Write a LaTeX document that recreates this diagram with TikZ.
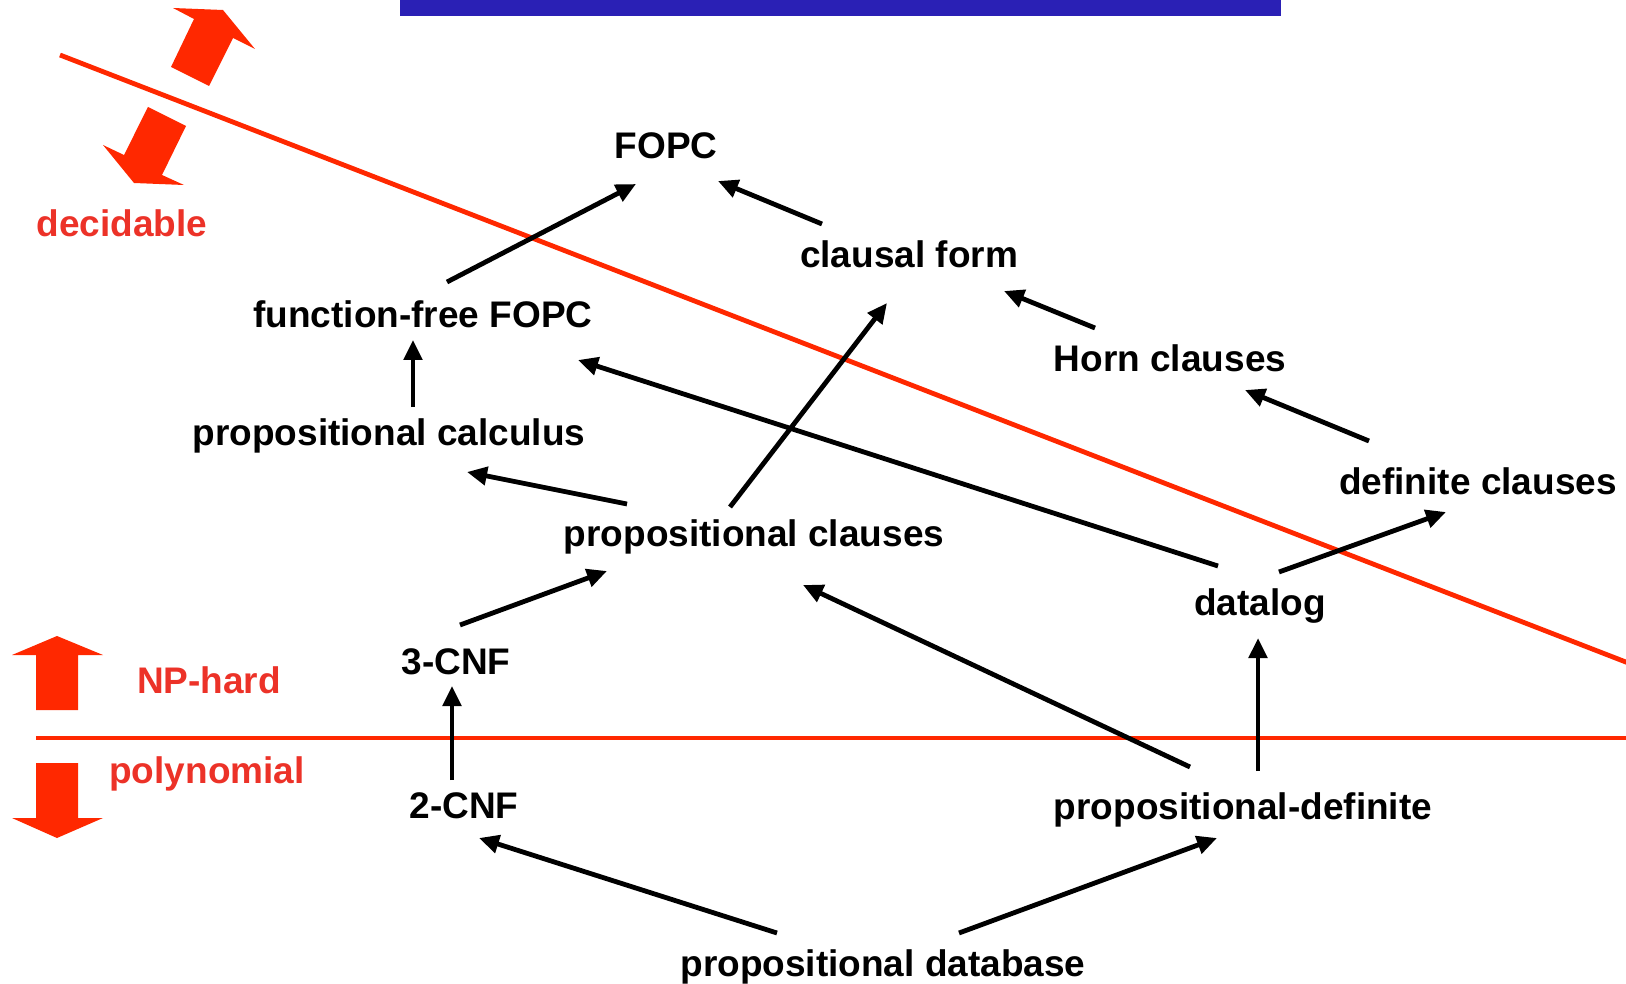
\documentclass[tikz,border=0pt]{standalone}
\usepackage{fontspec}
\setmainfont{Liberation Sans}
\usetikzlibrary{arrows.meta,calc}
\definecolor{redline}{RGB}{255,40,0}
\definecolor{redtext}{RGB}{236,50,40}
\definecolor{barblue}{RGB}{42,32,181}
\tikzset{
  lbl/.style={anchor=base,inner sep=0pt,font=\fontsize{37}{44}\selectfont\bfseries,text=black},
  rlbl/.style={lbl,text=redtext},
  arr/.style={line width=4.8pt,-{Triangle[length=20pt,width=18pt]},black},
  bigarrow/.style={fill=redline,draw=none},
  redrule/.style={draw=redline,line width=4.8pt}
}
\begin{document}
\begin{tikzpicture}[x=1pt,y=-1pt]
\useasboundingbox (0,0) rectangle (1626,984);
% blue bar
\fill[barblue] (400,0) rectangle (1281,16);
% red lines
\draw[redrule] (60,55) -- (1640,667.5);
\draw[redrule] (36,738) -- (1626,738);
% red big arrows
\fill[bigarrow] (171,67) -- (209,86) -- (233,38) -- (255,49) -- (223,10) -- (173,8) -- (194,19) -- cycle;
\fill[bigarrow] (148,107) -- (186,126) -- (162,175) -- (184,185) -- (134,183) -- (103,145) -- (124,155) -- cycle;
\fill[bigarrow] (57,636) -- (103,655) -- (78,655) -- (78,710) -- (36,710) -- (36,655) -- (12,655) -- cycle;
\fill[bigarrow] (36,763) -- (78,763) -- (78,818) -- (103,818) -- (57,838) -- (12,818) -- (36,818) -- cycle;
% red labels
\node[rlbl] (decidable) at (122,237) {decidable};
\node[rlbl] (nphard) at (209,693) {NP-hard};
\node[rlbl] (poly) at (207,783) {polynomial};
% nodes
\node[lbl] (fopc) at (666,159) {FOPC};
\node[lbl] (clausal) at (909,268) {clausal form};
\node[lbl] (fff) at (423,328) {function-free FOPC};
\node[lbl] (horn) at (1170,372) {Horn clauses};
\node[lbl] (pcalc) at (389,445) {propositional calculus};
\node[lbl] (defcl) at (1478,494) {definite clauses};
\node[lbl] (pclauses) at (754,546) {propositional clauses};
\node[lbl] (datalog) at (1260,615) {datalog};
\node[lbl] (cnf3) at (456,674) {3-CNF};
\node[lbl] (cnf2) at (464,818) {2-CNF};
\node[lbl] (pdef) at (1243,819) {propositional-definite};
\node[lbl] (pdb) at (883,976) {propositional database};
% connectors
\draw[arr] ($(fff.base)+(24,-46)$) -- ($(fopc.base)+(-30,25)$);
\draw[arr] ($(clausal.base)+(-87,-44)$) -- ($(fopc.base)+(52,22)$);
\draw[arr] ($(pcalc.base)+(24,-38)$) -- ($(fff.base)+(-10,12)$);
\draw[arr] ($(horn.base)+(-75,-44)$) -- ($(clausal.base)+(95,23)$);
\draw[arr] ($(defcl.base)+(-109,-53)$) -- ($(horn.base)+(75,18)$);
\draw[arr] ($(pclauses.base)+(-127,-42)$) -- ($(pcalc.base)+(78,27)$);
\draw[arr] ($(pclauses.base)+(-24,-39)$) -- ($(clausal.base)+(-22,35)$);
\draw[arr] ($(datalog.base)+(-42,-49)$) -- ($(fff.base)+(155,32)$);
\draw[arr] ($(datalog.base)+(19,-43)$) -- ($(defcl.base)+(-32,18)$);
\draw[arr] ($(cnf3.base)+(4,-49)$) -- ($(pclauses.base)+(-147,25)$);
\draw[arr] ($(cnf2.base)+(-12,-38)$) -- ($(cnf3.base)+(-4,12)$);
\draw[arr] ($(pdef.base)+(-53,-52)$) -- ($(pclauses.base)+(49,39)$);
\draw[arr] ($(pdef.base)+(15,-48)$) -- ($(datalog.base)+(-2,23)$);
\draw[arr] ($(pdb.base)+(-106,-43)$) -- ($(cnf2.base)+(15,20)$);
\draw[arr] ($(pdb.base)+(76,-43)$) -- ($(pdef.base)+(-26,19)$);
\end{tikzpicture}
\end{document}
